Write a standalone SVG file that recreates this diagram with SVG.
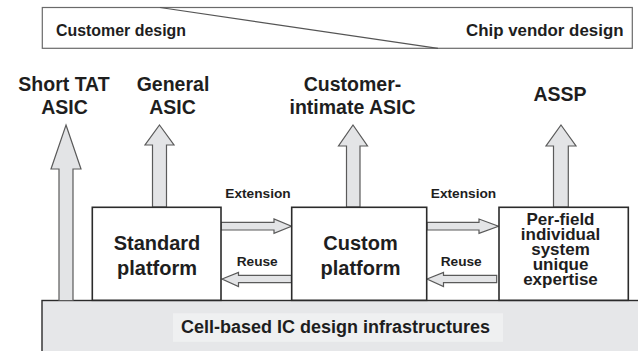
<svg xmlns="http://www.w3.org/2000/svg" width="638" height="351" viewBox="0 0 638 351">
<style>
text{font-family:"Liberation Sans",Arial,Helvetica,sans-serif;font-weight:bold;fill:#1e1e1e;text-anchor:middle}
.box{fill:#fff;stroke:#2b2b2b;stroke-width:1.6}
.arr{fill:#e3e4e6;stroke:#5a5a5a;stroke-width:1.2;stroke-linejoin:miter}
.t20{font-size:20px}
.t19{font-size:19.5px}
.lbl{font-size:13.7px}
</style>
<rect x="0" y="0" width="638" height="351" fill="#fff"/>
<g id="design-scale">
<rect x="42.3" y="7.5" width="590" height="40.8" fill="#fff" stroke="#6a6a6a" stroke-width="1.2"/>
<line x1="160" y1="7.5" x2="438" y2="48.3" stroke="#555" stroke-width="1.2"/>
<text x="56" y="35.5" style="text-anchor:start;font-size:16.5px" textLength="130" lengthAdjust="spacingAndGlyphs">Customer design</text>
<text x="466" y="35.5" style="text-anchor:start;font-size:16.5px" textLength="157.5" lengthAdjust="spacingAndGlyphs">Chip vendor design</text>
</g>
<g id="infrastructure">
<rect x="42" y="300.5" width="600" height="60" fill="#e6e7e9" stroke="#2b2b2b" stroke-width="1.4"/>
<rect x="173" y="313.3" width="330" height="28.5" fill="#eff0f1"/>
<text x="335.5" y="333.3" style="font-size:18px">Cell-based IC design infrastructures</text>
</g>
<g id="connectors">
<polygon class="arr" points="66,125 81,169 73,169 73,300.5 59,300.5 59,169 51,169"/>
<polygon class="arr" points="159.5,125 174,145 166.5,145 166.5,207 152.5,207 152.5,145 145,145"/>
<polygon class="arr" points="353,125 367.5,146 360,146 360,207 346.5,207 346.5,146 338.5,146"/>
<polygon class="arr" points="561,125 576,146 568.3,146 568.3,207 553.5,207 553.5,146 546,146"/>
<polygon class="arr" points="221,222.3 274,222.3 274,219 291.5,226.2 274,233.3 274,230 221,230"/>
<polygon class="arr" points="427,222.3 479,222.3 479,219 498.5,226.2 479,233.3 479,230 427,230"/>
<polygon class="arr" points="222,279 238.5,272.5 238.5,275.3 291.5,275.3 291.5,282.7 238.5,282.7 238.5,286.5"/>
<polygon class="arr" points="427,279 443.5,272.5 443.5,275.3 496.7,275.3 496.7,282.7 443.5,282.7 443.5,286.5"/>
<text class="lbl" x="258" y="198.3">Extension</text>
<text class="lbl" x="463.5" y="198.3">Extension</text>
<text class="lbl" x="257.2" y="266">Reuse</text>
<text class="lbl" x="461.2" y="266">Reuse</text>
</g>
<g id="short-tat-asic">
<text class="t19" x="64" y="91">Short TAT</text>
<text class="t19" x="64.5" y="114">ASIC</text>
</g>
<g id="general-asic">
<text class="t19" x="173" y="91">General</text>
<text class="t19" x="172.5" y="114">ASIC</text>
</g>
<g id="customer-intimate-asic">
<text class="t19" x="352.5" y="91">Customer-</text>
<text class="t19" x="352.5" y="114">intimate ASIC</text>
</g>
<g id="assp">
<text class="t19" x="560" y="101">ASSP</text>
</g>
<g id="standard-platform">
<rect class="box" x="92.3" y="207.3" width="128.7" height="93"/>
<text class="t20" x="157" y="250">Standard</text>
<text class="t20" x="157" y="274.5">platform</text>
</g>
<g id="custom-platform">
<rect class="box" x="291.7" y="207.3" width="135" height="93"/>
<text class="t20" x="360.5" y="250">Custom</text>
<text class="t20" x="360.5" y="274.5">platform</text>
</g>
<g id="per-field-expertise">
<rect class="box" x="499" y="207.3" width="129.3" height="93"/>
<text x="560.5" y="225" style="font-size:17px">Per-field</text>
<text x="560.5" y="239.5" style="font-size:17px">individual</text>
<text x="560.5" y="254.5" style="font-size:17px">system</text>
<text x="560.5" y="269.5" style="font-size:17px">unique</text>
<text x="560.5" y="285" style="font-size:17px">expertise</text>
</g>
</svg>
